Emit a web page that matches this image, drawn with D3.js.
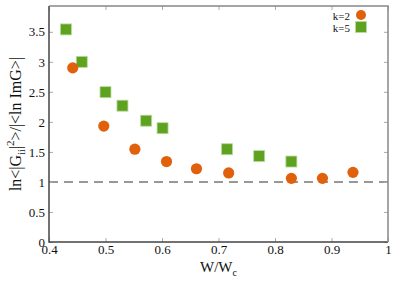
<!DOCTYPE html>
<html>
<head>
<meta charset="utf-8">
<script src="https://cdn.jsdelivr.net/npm/d3@7"></script>
<style>
  body { margin: 0; background: #fff; }
  svg text { font-family: 'Liberation Serif', 'Times New Roman', serif !important; fill: #111; }
</style>
</head>
<body>
<svg id="chart" width="400" height="283"></svg>
<script>
// k=2 series (circles)
var k2X = [0.442, 0.497, 0.552, 0.608, 0.661, 0.718, 0.829, 0.884, 0.938];
var k2Y = [2.90, 1.93, 1.545, 1.34, 1.22, 1.15, 1.06, 1.06, 1.16];
// k=5 series (squares)
var k5X = [0.430, 0.458, 0.500, 0.530, 0.572, 0.601, 0.715, 0.772, 0.829];
var k5Y = [3.54, 3.00, 2.495, 2.27, 2.02, 1.895, 1.545, 1.43, 1.34];
var xTicks = [0.4, 0.5, 0.6, 0.7, 0.8, 0.9, 1];
var yTicks = [0, 0.5, 1, 1.5, 2, 2.5, 3, 3.5];
var refLine = 1;

var margin = {left: 49, right: 12, top: 6, bottom: 41};
var W = 400, H = 283;
var svg = d3.select('#chart');

var x = d3.scaleLinear().domain([0.4, 1]).range([margin.left, W - margin.right]);
var y = d3.scaleLinear().domain([0, 3.93]).range([H - margin.bottom, margin.top]);

var orange = '#e0600c', green = '#5ea21f';

// dashed reference line
svg.append('line')
   .attr('x1', x(0.4)).attr('x2', x(1))
   .attr('y1', y(refLine)).attr('y2', y(refLine))
   .style('stroke', '#777').style('stroke-width', 1.5)
   .style('stroke-dasharray', '9,6');

// axes (ticks inward, mirrored)
function styleAxis(g) {
  g.attr('font-family', null).attr('font-size', null);
  g.select('.domain').remove();
  g.selectAll('.tick line').style('stroke', '#aaa');
  g.selectAll('text').style('font-size', '13px');
}
svg.append('g').attr('transform', 'translate(0,' + y(0) + ')')
   .call(d3.axisBottom(x).tickValues(xTicks).tickSize(-4).tickPadding(3).tickFormat(d3.format('')))
   .call(styleAxis);
svg.append('g').attr('transform', 'translate(0,' + margin.top + ')')
   .call(d3.axisTop(x).tickValues(xTicks).tickSize(-4).tickFormat(''))
   .call(styleAxis);
svg.append('g').attr('transform', 'translate(' + margin.left + ',0)')
   .call(d3.axisLeft(y).tickValues(yTicks).tickSize(-4).tickPadding(4).tickFormat(d3.format('')))
   .call(styleAxis);
svg.append('g').attr('transform', 'translate(' + (W - margin.right) + ',0)')
   .call(d3.axisRight(y).tickValues(yTicks).tickSize(-4).tickFormat(''))
   .call(styleAxis);

// frame
svg.append('path')
   .attr('d', 'M' + x(0.4) + ',' + y(3.93) + 'V' + y(0) + 'H' + x(1))
   .style('fill', 'none').style('stroke', '#444').style('stroke-width', 1.5);
svg.append('path')
   .attr('d', 'M' + x(0.4) + ',' + y(3.93) + 'H' + x(1) + 'V' + y(0))
   .style('fill', 'none').style('stroke', '#888').style('stroke-width', 1.5);

// markers
var k2 = k2X.map(function(d, i) { return {x: d, y: k2Y[i]}; });
var k5 = k5X.map(function(d, i) { return {x: d, y: k5Y[i]}; });

svg.selectAll('.sq').data(k5).enter().append('rect')
   .attr('class', 'sq')
   .attr('x', function(d) { return x(d.x) - 5.5; })
   .attr('y', function(d) { return y(d.y) - 5.5; })
   .attr('width', 11).attr('height', 11)
   .style('fill', green).style('stroke', '#b9dba0').style('stroke-width', 0.8);

svg.selectAll('.ci').data(k2).enter().append('circle')
   .attr('class', 'ci')
   .attr('cx', function(d) { return x(d.x); })
   .attr('cy', function(d) { return y(d.y); })
   .attr('r', 5.6)
   .style('fill', orange);

// legend
var lg = svg.append('g');
lg.append('text').attr('x', 350).attr('y', 19.5).attr('text-anchor', 'end')
  .style('font-size', '11px').text('k=2');
lg.append('text').attr('x', 350).attr('y', 31.5).attr('text-anchor', 'end')
  .style('font-size', '11px').text('k=5');
lg.append('circle').attr('cx', 361).attr('cy', 15).attr('r', 5).style('fill', orange);
lg.append('rect').attr('x', 355.5).attr('y', 21.5).attr('width', 11).attr('height', 11)
  .style('fill', green).style('stroke', '#b9dba0').style('stroke-width', 0.8);

// axis labels
var xl = svg.append('text').attr('x', (x(0.4) + x(1)) / 2).attr('y', 272)
   .attr('text-anchor', 'middle').style('font-size', '15px');
xl.append('tspan').text('W/W');
xl.append('tspan').attr('dy', 4).style('font-size', '10px').text('c');

var yl = svg.append('text')
   .attr('transform', 'translate(21,' + ((y(0) + y(3.93)) / 2) + ') rotate(-90)')
   .attr('text-anchor', 'middle').style('font-size', '16px');
yl.append('tspan').text('ln<|G');
yl.append('tspan').attr('dy', 4).style('font-size', '10px').text('ii');
yl.append('tspan').attr('dy', -4).text('|');
yl.append('tspan').attr('dy', -7).style('font-size', '11px').text('2');
yl.append('tspan').attr('dy', 7).text('>/|<ln ImG>|');
</script>
</body>
</html>
